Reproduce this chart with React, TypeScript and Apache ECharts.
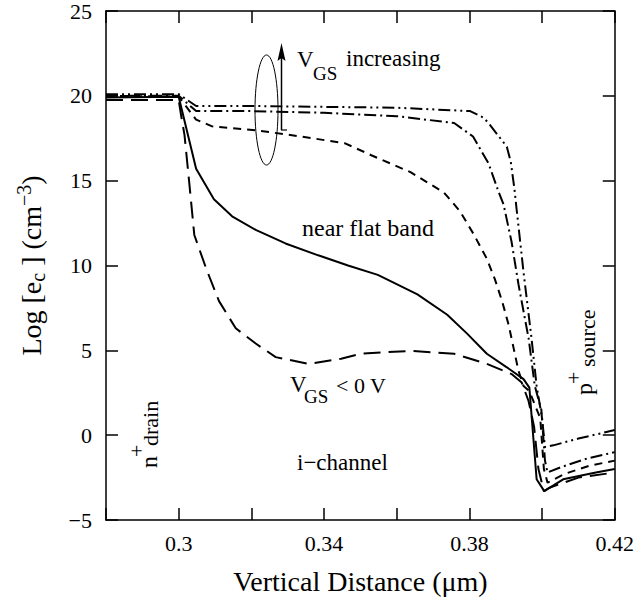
import React, { useEffect, useRef } from 'react';
import * as echarts from 'echarts';

const FONT = 'Liberation Serif';

// axis ticks
const xMin = 0.28;
const xMax = 0.42;
const xStep = 0.02;
const xLabelled: Record<number, string> = { 30: '0.3', 34: '0.34', 38: '0.38', 42: '0.42' };
const yMin = -5;
const yMax = 25;
const yStep = 5;

// V_GS < 0 V (long dashes)
const xNeg = [0.28, 0.30, 0.3007, 0.3016, 0.3029, 0.3043, 0.3076, 0.3111, 0.3157, 0.3212, 0.3267, 0.3357, 0.3447, 0.3501, 0.3638, 0.3758, 0.3848, 0.3916, 0.3944, 0.3963, 0.3978, 0.399, 0.4005, 0.402, 0.41, 0.42];
const yNeg = [19.75, 19.75, 18.8, 17.7, 14.9, 11.8, 9.8, 7.9, 6.3, 5.4, 4.6, 4.2, 4.5, 4.8, 4.97, 4.8, 4.2, 3.6, 3.1, 2.0, 0.5, -2.0, -3.3, -3.1, -2.5, -2.2];

// near flat band (solid)
const xFlat = [0.28, 0.30, 0.3048, 0.3097, 0.3147, 0.3212, 0.3294, 0.3384, 0.3466, 0.3548, 0.3657, 0.3739, 0.3793, 0.3848, 0.3903, 0.3949, 0.3965, 0.3985, 0.4006, 0.4058, 0.4148, 0.42];
const yFlat = [19.9, 19.95, 15.7, 13.9, 12.9, 12.1, 11.3, 10.6, 10.0, 9.45, 8.3, 7.1, 6.0, 4.8, 4.0, 3.3, 2.8, -2.6, -3.3, -2.6, -2.2, -2.0];

// low V_GS (short dashes)
const xLow = [0.28, 0.30, 0.3048, 0.3092, 0.322, 0.3338, 0.3458, 0.353, 0.3638, 0.373, 0.3774, 0.3813, 0.3848, 0.387, 0.389, 0.3908, 0.3922, 0.3935, 0.3949, 0.3965, 0.3995, 0.4005, 0.4015, 0.406, 0.413, 0.42];
const yLow = [20.0, 19.95, 18.6, 18.2, 17.95, 17.6, 17.2, 16.5, 15.5, 14.3, 13.2, 11.8, 10.4, 9.2, 7.9, 6.5, 5.1, 3.8, 2.9, 2.6, 1.0, -2.0, -2.8, -2.3, -1.8, -1.5];

// medium V_GS (dash-dot)
const xMid = [0.28, 0.30, 0.3048, 0.32, 0.34, 0.36, 0.3758, 0.381, 0.3853, 0.3881, 0.3894, 0.3916, 0.3935, 0.3963, 0.398, 0.3998, 0.4008, 0.4015, 0.405, 0.412, 0.42];
const yMid = [20.0, 20.0, 19.1, 19.1, 19.0, 18.8, 18.4, 17.6, 16.0, 14.3, 13.6, 11.4, 8.9, 5.7, 2.9, 1.5, -1.5, -2.2, -1.9, -1.4, -1.0];

// high V_GS (dash-dot-dot)
const xHigh = [0.28, 0.30, 0.3048, 0.32, 0.34, 0.36, 0.3802, 0.384, 0.3856, 0.3903, 0.3914, 0.3924, 0.393, 0.3949, 0.3971, 0.3985, 0.4, 0.4008, 0.4031, 0.41, 0.42];
const yHigh = [20.1, 20.1, 19.4, 19.4, 19.35, 19.3, 19.1, 18.7, 18.3, 17.0, 16.1, 14.5, 13.3, 9.6, 5.7, 2.9, 1.0, -0.7, -0.6, -0.2, 0.3];

const zip = (xs: number[], ys: number[]) => xs.map((x, i) => [x, ys[i]]);

export default function App() {
  const ref = useRef<HTMLDivElement>(null);
  useEffect(() => {
    if (!ref.current) return;
    const chart = echarts.init(ref.current, undefined, { renderer: 'svg' });
    const black = '#000';
    const lineSeries = (data: number[][], type: any) => ({
      type: 'line',
      data,
      symbol: 'none',
      smooth: false,
      silent: true,
      lineStyle: { color: black, width: 2, type, cap: 'butt' },
    });
    const txt = (text: string, x: number, y: number, size: number, extra: any = {}) => ({
      type: 'text',
      x,
      y,
      silent: true,
      ...extra,
      style: {
        text,
        fill: black,
        fontFamily: FONT,
        fontSize: size,
        align: 'left',
        verticalAlign: 'middle',
      },
    });
    const rot = { rotation: Math.PI / 2 };
    const frameLine = { show: true, onZero: false, lineStyle: { color: black, width: 1.5 } };
    const frameTick = { show: true, inside: true, length: 12, lineStyle: { color: black, width: 1.5 } };
    chart.setOption({
      animation: false,
      grid: { left: 106, right: 19, top: 8, bottom: 82, containLabel: false },
      xAxis: [
        {
          type: 'value',
          min: xMin,
          max: xMax,
          interval: xStep,
          name: 'Vertical Distance (μm)',
          nameLocation: 'middle',
          nameGap: 47,
          nameTextStyle: { fontFamily: FONT, fontSize: 28, color: black },
          axisLine: frameLine,
          axisTick: frameTick,
          splitLine: { show: false },
          axisLabel: {
            fontFamily: FONT,
            fontSize: 22,
            color: black,
            margin: 12,
            showMinLabel: true,
            showMaxLabel: true,
            formatter: (v: number) => xLabelled[Math.round(v * 100)] ?? '',
          },
        },
        {
          type: 'value',
          position: 'top',
          min: xMin,
          max: xMax,
          interval: xStep,
          axisLine: frameLine,
          axisTick: frameTick,
          axisLabel: { show: false },
          splitLine: { show: false },
        },
      ],
      yAxis: [
        {
          type: 'value',
          min: yMin,
          max: yMax,
          interval: yStep,
          name: '{n|Log [e}{sub|c}{n| ] (cm}{sup|−3}{n|)}',
          nameLocation: 'middle',
          nameGap: 58,
          nameTextStyle: {
            fontFamily: FONT,
            fontSize: 28,
            color: black,
            rich: {
              n: { fontFamily: FONT, fontSize: 28, color: black },
              sub: { fontFamily: FONT, fontSize: 20, color: black, padding: [14, 0, 0, 0] },
              sup: { fontFamily: FONT, fontSize: 20, color: black, padding: [0, 0, 14, 0] },
            },
          },
          axisLine: frameLine,
          axisTick: frameTick,
          splitLine: { show: false },
          axisLabel: {
            fontFamily: FONT,
            fontSize: 22,
            color: black,
            margin: 14,
            formatter: (v: number) => (v < 0 ? '−' + Math.abs(v) : String(v)),
          },
        },
        {
          type: 'value',
          position: 'right',
          min: yMin,
          max: yMax,
          interval: yStep,
          axisLine: frameLine,
          axisTick: frameTick,
          axisLabel: { show: false },
          splitLine: { show: false },
        },
      ],
      series: [
        lineSeries(zip(xNeg, yNeg), [17, 8]),
        lineSeries(zip(xFlat, yFlat), 'solid'),
        lineSeries(zip(xLow, yLow), [8, 6]),
        lineSeries(zip(xMid, yMid), [12, 4, 2, 4]),
        lineSeries(zip(xHigh, yHigh), [12, 4, 2, 4, 2, 4]),
      ],
      graphic: [
        { type: 'ellipse', silent: true, shape: { cx: 266.5, cy: 110, rx: 11.5, ry: 55 }, style: { fill: 'none', stroke: black, lineWidth: 1 } },
        { type: 'line', silent: true, shape: { x1: 281.5, y1: 130, x2: 281.5, y2: 58 }, style: { stroke: black, lineWidth: 1.5 } },
        { type: 'line', silent: true, shape: { x1: 281, y1: 130, x2: 287, y2: 130 }, style: { stroke: black, lineWidth: 1.2 } },
        { type: 'polygon', silent: true, shape: { points: [[281.5, 43], [277.5, 61], [281.5, 58], [285.5, 61]] }, style: { fill: black } },
        txt('V', 297, 59.5, 23),
        txt('GS', 313, 73, 19),
        txt('increasing', 346, 58.5, 23),
        txt('near flat band', 302, 227.5, 24),
        txt('V', 290, 384.5, 23),
        txt('GS', 304, 396, 19),
        txt('< 0 V', 336, 385, 22),
        txt('i−channel', 297, 462.5, 23),
        txt('n', 149, 468, 24, rot),
        txt('+', 136, 457, 22, rot),
        txt('drain', 150, 446, 22, rot),
        txt('p', 584, 395, 24, rot),
        txt('+', 573, 384, 22, rot),
        txt('source', 587, 367, 22, rot),
      ],
    });
    return () => chart.dispose();
  }, []);
  return <div ref={ref} style={{ position: 'absolute', left: 0, top: 0, width: 637, height: 602 }} />;
}
